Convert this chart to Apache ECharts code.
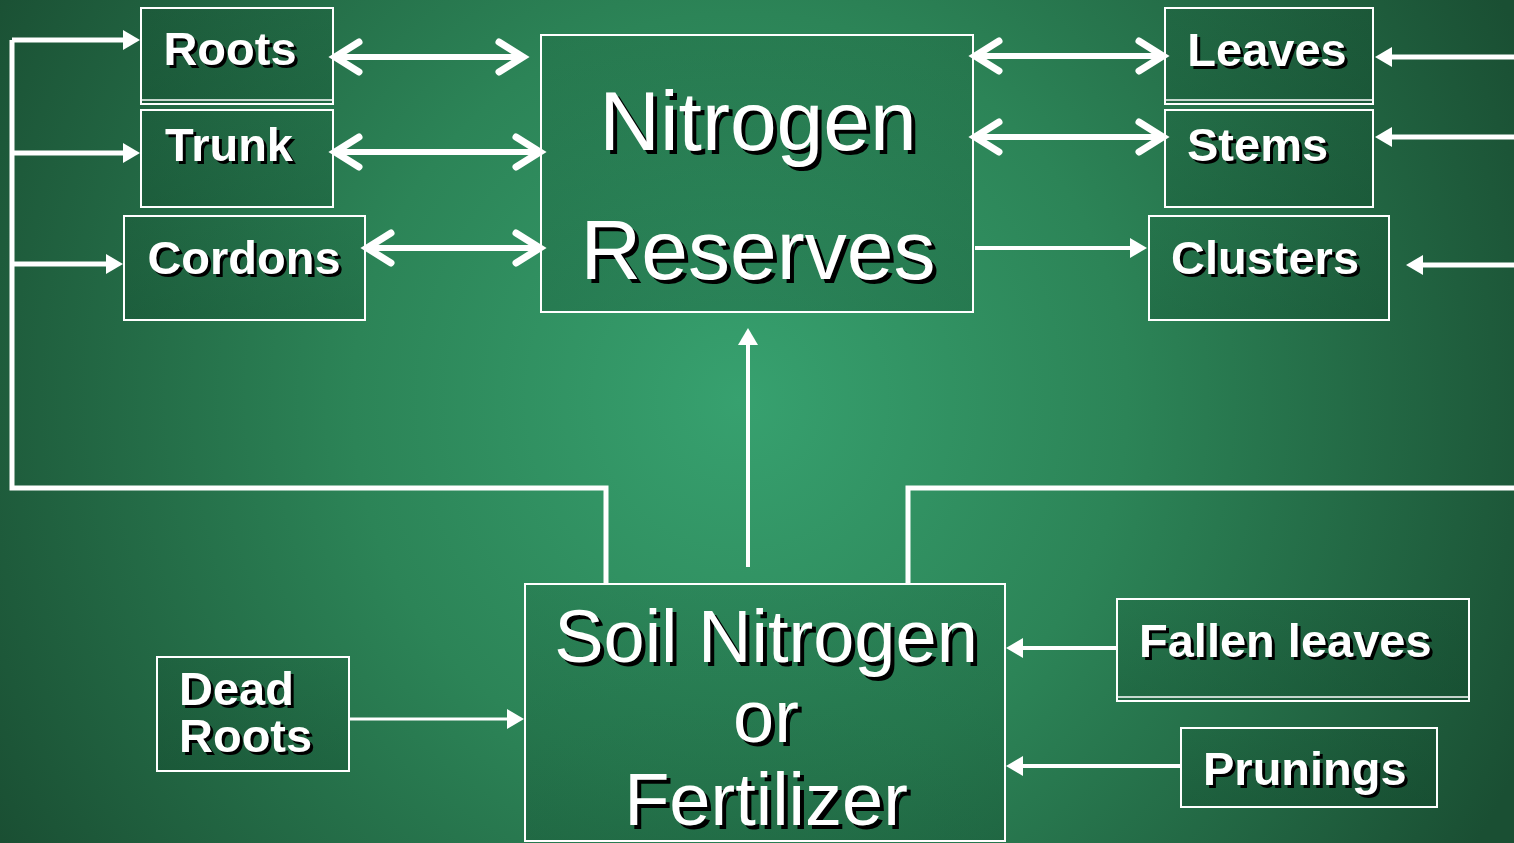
<!DOCTYPE html>
<html>
<head>
<meta charset="utf-8">
<title>Nitrogen Reserves</title>
<script src="https://cdn.jsdelivr.net/npm/echarts@6/dist/echarts.min.js"></script>
<style>
  html, body { margin: 0; padding: 0; background: #1f5a3c; }
  #chart { width: 1514px; height: 843px; }
</style>
</head>
<body>
<div id="chart"></div>
<script>
// box labels (one entry per box)
const boxLabels = [
  'Roots', 'Trunk', 'Cordons', 'Nitrogen\nReserves',
  'Leaves', 'Stems', 'Clusters', 'Soil Nitrogen\nor\nFertilizer',
  'Dead\nRoots', 'Fallen leaves', 'Prunings'
];

// box layout in canvas units: [left, top, right, bottom]
const boxRects = [
  [141, 8, 333, 104], [141, 110, 333, 207], [124, 216, 365, 320], [541, 35, 973, 312],
  [1165, 8, 1373, 104], [1165, 110, 1373, 207], [1149, 216, 1389, 320], [525, 584, 1005, 841],
  [157, 657, 349, 771], [1117, 599, 1469, 701], [1181, 728, 1437, 807]
];
// boxes drawn with a second rule just inside one edge
const doubleEdge = [[0, 'bottom'], [4, 'bottom'], [9, 'bottom']];

// text anchor x, line centre y's, alignment, size
const textX = [230, 229, 244, 758, 1267, 1187, 1265, 766, 179, 1139, 1203];
const textLineY = [[48], [144], [257], [120, 249], [49], [144], [257], [635, 715, 798], [688, 735], [640], [768]];
const textAlign = ['center', 'center', 'center', 'center', 'center', 'left', 'center', 'center', 'left', 'left', 'left'];
const textSize = [47, 47, 47, 84, 47, 47, 47, 74, 47, 47, 47];

// arrow routes in canvas units
const arrowRoutes = [
  [[335, 57], [523, 57]],
  [[335, 152], [540, 152]],
  [[367, 248], [540, 248]],
  [[975, 56], [1163, 56]],
  [[975, 137], [1163, 137]],
  [[975, 248], [1147, 248]],
  [[1514, 57], [1375, 57]],
  [[1514, 137], [1375, 137]],
  [[1514, 265], [1406, 265]],
  [[12, 40], [140, 40]],
  [[12, 153], [140, 153]],
  [[12, 264], [123, 264]],
  [[12, 40], [12, 488], [606, 488], [606, 584]],
  [[908, 584], [908, 488], [1514, 488]],
  [[748, 567], [748, 328]],
  [[349, 719], [524, 719]],
  [[1117, 648], [1006, 648]],
  [[1181, 766], [1006, 766]]
];
// heads: [start, end]
const arrowHeads = [
  ['open', 'open'], ['open', 'open'], ['open', 'open'], ['open', 'open'], ['open', 'open'],
  ['none', 'fill'], ['none', 'fill'], ['none', 'fill'], ['none', 'fill'],
  ['none', 'fill'], ['none', 'fill'], ['none', 'fill'],
  ['none', 'none'], ['none', 'none'],
  ['none', 'fill'], ['none', 'fill'], ['none', 'fill'], ['none', 'fill']
];
const arrowWidth = [6, 6, 6, 6, 6, 4, 5, 5, 5, 5, 5, 5, 5, 5, 4, 3, 4, 4];

const FONT = "'Liberation Sans', Arial, sans-serif";

const chart = echarts.init(document.getElementById('chart'));

// head shape at point tip, coming from point prev
function headShape(kind, tip, prev, lw) {
  const dx = tip[0] - prev[0], dy = tip[1] - prev[1];
  const len = Math.sqrt(dx * dx + dy * dy) || 1;
  const ux = dx / len, uy = dy / len;
  const nx = -uy, ny = ux;
  if (kind === 'open') {
    const L = 24, H = 15;
    return {
      type: 'polyline',
      shape: { points: [
        [tip[0] - ux * L + nx * H, tip[1] - uy * L + ny * H],
        [tip[0], tip[1]],
        [tip[0] - ux * L - nx * H, tip[1] - uy * L - ny * H]
      ] },
      style: { stroke: '#fff', fill: null, lineWidth: lw + 1, lineCap: 'round', lineJoin: 'miter' }
    };
  }
  const L = 17, H = 10;
  return {
    type: 'polygon',
    shape: { points: [
      [tip[0], tip[1]],
      [tip[0] - ux * L + nx * H, tip[1] - uy * L + ny * H],
      [tip[0] - ux * L - nx * H, tip[1] - uy * L - ny * H]
    ] },
    style: { fill: '#fff', stroke: null }
  };
}

function renderArrow(params, api) {
  const i = api.value(0);
  const pts = arrowRoutes[i].map(p => api.coord(p));
  const lw = arrowWidth[i];
  const heads = arrowHeads[i];
  const n = pts.length;
  // shorten the shaft under filled heads
  const shaft = pts.map(p => p.slice());
  if (heads[1] === 'fill') {
    const a = shaft[n - 2], b = shaft[n - 1];
    const d = Math.hypot(b[0] - a[0], b[1] - a[1]);
    b[0] -= (b[0] - a[0]) / d * 10; b[1] -= (b[1] - a[1]) / d * 10;
  }
  const children = [{
    type: 'polyline',
    shape: { points: shaft },
    style: { stroke: '#fff', fill: null, lineWidth: lw, lineCap: 'butt', lineJoin: 'miter' }
  }];
  if (heads[0] !== 'none') children.push(headShape(heads[0], pts[0], pts[1], lw));
  if (heads[1] !== 'none') children.push(headShape(heads[1], pts[n - 1], pts[n - 2], lw));
  return { type: 'group', children };
}

function renderBox(params, api) {
  const i = api.value(0);
  const r = boxRects[i];
  const p0 = api.coord([r[0], r[1]]);
  const p1 = api.coord([r[2], r[3]]);
  const children = [{
    type: 'rect',
    shape: { x: p0[0], y: p0[1], width: p1[0] - p0[0], height: p1[1] - p0[1] },
    style: {
      fill: new echarts.graphic.LinearGradient(0, 0, 0, 1, [
        { offset: 0, color: 'rgba(10,60,35,0.14)' },
        { offset: 1, color: 'rgba(10,60,35,0.26)' }
      ]),
      stroke: '#fff', lineWidth: 2
    }
  }];
  doubleEdge.forEach(([b]) => {
    if (b === i) {
      children.push({
        type: 'line',
        shape: { x1: p0[0], y1: p1[1] - 4, x2: p1[0], y2: p1[1] - 4 },
        style: { stroke: '#fff', lineWidth: 1.5 }
      });
    }
  });
  const bold = textSize[i] < 60;
  const font = (bold ? 'bold ' : '') + textSize[i] + 'px ' + FONT;
  const sh = bold ? 3 : 4;
  // 'middle' sits a little above the cap centre for this face
  const dy = textSize[i] * 0.085;
  boxLabels[i].split('\n').forEach((line, j) => {
    const p = api.coord([textX[i], textLineY[i][j]]);
    // shadow copy then the white text
    children.push({
      type: 'text',
      style: { text: line, x: p[0] + sh, y: p[1] + dy + sh, fill: '#000', font,
               align: textAlign[i], verticalAlign: 'middle' }
    });
    children.push({
      type: 'text',
      style: { text: line, x: p[0], y: p[1] + dy, fill: '#fff', font,
               align: textAlign[i], verticalAlign: 'middle' }
    });
  });
  return { type: 'group', children };
}

const option = {
  animation: false,
  graphic: [{
    type: 'rect',
    z: -10,
    silent: true,
    shape: { x: 0, y: 0, width: 1514, height: 843 },
    style: {
      fill: new echarts.graphic.RadialGradient(740, 400, 860, [
        { offset: 0, color: '#37a16f' },
        { offset: 0.45, color: '#2c8457' },
        { offset: 1, color: '#1a4f33' }
      ], true)
    }
  }],
  grid: { left: 0, right: 0, top: 0, bottom: 0 },
  xAxis: { type: 'value', min: 0, max: 1514, show: false },
  yAxis: { type: 'value', min: 0, max: 843, inverse: true, show: false },
  series: [
    {
      type: 'custom',
      name: 'boxes',
      renderItem: renderBox,
      clip: false,
      silent: true,
      data: boxLabels.map((_, i) => [i])
    },
    {
      type: 'custom',
      name: 'arrows',
      renderItem: renderArrow,
      clip: false,
      silent: true,
      data: arrowRoutes.map((_, i) => [i])
    }
  ]
};

chart.setOption(option);
</script>
</body>
</html>
